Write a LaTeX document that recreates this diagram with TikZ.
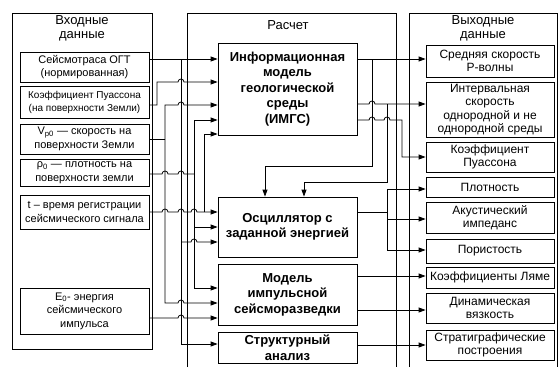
\documentclass[tikz,border=0pt]{standalone}
\usepackage{fontspec}
\setmainfont{Liberation Sans}
\usetikzlibrary{arrows.meta}
\begin{document}
\begin{tikzpicture}[x=1pt,y=-1pt,
  wire/.style={line width=0.8pt},
  arr/.style={wire,-{Triangle[length=7pt,width=5pt]}},
  frame/.style={line width=0.8pt},
  bx/.style={draw,line width=0.8pt,align=center,inner sep=0pt},
  inbox/.style={bx,minimum width=129pt,font=\fontsize{11}{13.5}\selectfont},
  midbox/.style={bx,minimum width=139pt,font=\bfseries\fontsize{13}{15.5}\selectfont},
  outbox/.style={bx,minimum width=128pt,font=\fontsize{12}{13.3}\selectfont},
  ttl/.style={align=center,inner sep=0pt,font=\fontsize{13}{14}\selectfont},
  hop/.style args={#1/#2}{insert path={-- ({#1-3},#2) arc[start angle=180,end angle=360,radius=3]}}]
\useasboundingbox (0,0) rectangle (559,367);

% frames
\draw[frame] (12,13) rectangle (152,349);
\draw[frame] (187,367) -- (187,13) -- (396,13) -- (396,367);
\draw[frame] (409,367) -- (409,13) -- (557,13) -- (557,367);

% titles
\node[ttl] (tl) at (82,28) {Входные\\данные};
\node[ttl] (tm) at (288,25) {Расчет};
\node[ttl] (tr) at (483,28) {Выходные\\данные};

% input boxes
\node[inbox,minimum height=30pt] (in1) at (84.5,67) {Сейсмотраса ОГТ\\(нормированная)};
\node[inbox,minimum height=32pt,font=\fontsize{10}{13}\selectfont] (in2) at (84.5,102) {Коэффициент Пуассона\\(на поверхности Земли)};
\node[inbox,minimum height=30pt] (in3) at (84.5,139) {V\textsubscript{p0} — скорость на\\поверхности Земли};
\node[inbox,minimum height=27pt] (in4) at (84.5,172.5) {ρ\textsubscript{0} — плотность на\\поверхности земли};
\node[inbox,minimum height=34pt] (in5) at (84.5,212) {t – время регистрации\\сейсмического сигнала};
\node[inbox,minimum height=46pt] (in6) at (84.5,311) {E\textsubscript{0}- энергия\\сейсмического\\импульса};

% middle boxes
\node[midbox,minimum height=92pt] (imgs) at (287.5,89) {Информационная\\модель\\геологической\\среды\\(ИМГС)};
\node[midbox,minimum height=60pt] (osc) at (287.5,227) {Осциллятор с\\заданной энергией};
\node[midbox,minimum height=61pt] (mod) at (287.5,294.5) {Модель\\импульсной\\сейсморазведки};
\node[midbox,minimum height=31pt] (str) at (287.5,347.5) {Структурный\\анализ};

% output boxes
\node[outbox,minimum height=32pt] (o1) at (490,61) {Средняя скорость\\Р-волны};
\node[outbox,minimum height=55pt] (o2) at (490,109.5) {Интервальная\\скорость\\однородной и не\\однородной среды};
\node[outbox,minimum height=30pt] (o3) at (490,157) {Коэффициент\\Пуассона};
\node[outbox,minimum height=20pt] (o4) at (490,187) {Плотность};
\node[outbox,minimum height=31pt] (o5) at (490,217.5) {Акустический\\импеданс};
\node[outbox,minimum height=24pt] (o6) at (490,251) {Пористость};
\node[outbox,minimum height=21pt] (o7) at (490,277.5) {Коэффициенты Ляме};
\node[outbox,minimum height=30pt] (o8) at (490,308) {Динамическая\\вязкость};
\node[outbox,minimum height=30pt] (o9) at (490,345) {Стратиграфические\\построения};

% left wiring
\draw[arr] (in1.east |- 0,59) -- (imgs.west |- 0,59);
\draw[arr] (181,59) -- (181,344) -- (str.west |- 0,344);
\draw[arr] (181,242) [hop=194/242] -- (osc.west |- 0,242);
\draw[arr] (in2.east |- 0,105) -- (157,105) -- (157,82) [hop=181/82] -- (imgs.west |- 0,82);
\draw[wire] (in3.east) -- (165,139);
\draw[arr] (165,139) -- (165,105) [hop=181/105] -- (imgs.west |- 0,105);
\draw[arr] (165,139) -- (165,303) [hop=181/303] -- (mod.west |- 0,303);
\draw[wire] (in4.east |- 0,174) [hop=165/174] [hop=181/174] -- (194,174);
\draw[arr] (194,174) -- (194,120) -- (imgs.west |- 0,120);
\draw[arr] (194,174) -- (194,288) -- (mod.west |- 0,288);
\draw[arr] (194,227) -- (osc.west |- 0,227);
\draw[arr] (in5.east |- 0,212) [hop=165/212] [hop=181/212] [hop=194/212] -- (osc.west |- 0,212);
\draw[arr] (204,212) -- (204,134) -- (imgs.west |- 0,134);
\draw[arr] (in6.east |- 0,318) [hop=181/318] -- (mod.west |- 0,318);

% right wiring
\draw[arr] (imgs.east |- 0,59) -- (o1.west |- 0,59);
\draw[arr] (372,59) -- (372,166) -- (265,166) -- (osc.north -| 265,0);
\draw[arr] (imgs.east |- 0,104) [hop=372/104] -- (o2.west |- 0,104);
\draw[arr] (387,104) -- (387,182) -- (304,182) -- (osc.north -| 304,0);
\draw[arr] (imgs.east |- 0,120) [hop=372/120] [hop=387/120] -- (402,120) -- (402,157) -- (o3.west |- 0,157);
\draw[wire] (osc.east |- 0,212) -- (387,212);
\draw[arr] (387,212) -- (387,189) -- (o4.west |- 0,189);
\draw[arr] (387,212) -- (387,250) -- (o6.west |- 0,250);
\draw[arr] (387,219) -- (o5.west |- 0,219);
\draw[arr] (mod.east |- 0,276) -- (o7.west |- 0,276);
\draw[arr] (mod.east |- 0,310) -- (o8.west |- 0,310);
\draw[arr] (str.east |- 0,345) -- (o9.west |- 0,345);
\end{tikzpicture}
\end{document}
